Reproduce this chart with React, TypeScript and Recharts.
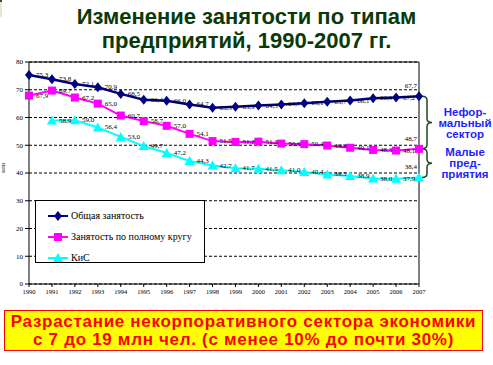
import {
  CartesianGrid,
  LabelList,
  Line,
  LineChart,
  ReferenceArea,
  ReferenceLine,
  XAxis,
  YAxis,
} from 'recharts'

const years = ['1990', '1991', '1992', '1993', '1994', '1995', '1996', '1997', '1998', '1999', '2000', '2001', '2002', '2003', '2004', '2005', '2006', '2007']
const totalEmp = [75.3, 73.8, 72.1, 70.9, 68.5, 66.4, 66.0, 64.7, 63.5, 63.9, 64.3, 64.7, 65.1, 65.7, 66.1, 66.9, 67.2, 67.7]
const fullEmp = [67.9, 69.7, 67.2, 65.0, 60.7, 58.7, 57.0, 54.1, 51.5, 51.2, 51.3, 50.6, 50.4, 49.9, 49.1, 48.3, 48.1, 48.7]
const smallEnt = [null, 58.9, 59.0, 56.4, 53.0, 49.7, 47.2, 44.3, 42.7, 41.7, 41.5, 41.0, 40.4, 39.5, 38.9, 38.0, 37.9, 38.4]
const yTicks = [0, 10, 20, 30, 40, 50, 60, 70, 80]

const data = years.map((year, i) => ({
  year,
  total: totalEmp[i],
  full: fullEmp[i],
  kis: smallEnt[i],
}))

const last = years.length - 1
const serif = '"Liberation Serif", "Times New Roman", serif'
const arial = '"Liberation Sans", Arial, sans-serif'

const series = [
  { key: 'total', name: 'Общая занятость', color: '#000080', width: 2.5, marker: 'diamond' },
  { key: 'full', name: 'Занятость по полному кругу', color: '#ff00ff', width: 2, marker: 'square' },
  { key: 'kis', name: 'КиС', color: '#00ffff', width: 2, marker: 'triangle' },
]

function Marker({ type, cx, cy, color }: { type: string; cx: number; cy: number; color: string }) {
  if (type === 'diamond')
    return <polygon points={`${cx},${cy - 5} ${cx + 4},${cy} ${cx},${cy + 5} ${cx - 4},${cy}`} fill={color} />
  if (type === 'square') return <rect x={cx - 4} y={cy - 4} width={8} height={8} fill={color} />
  return <polygon points={`${cx},${cy - 5} ${cx + 5},${cy + 4} ${cx - 5},${cy + 4}`} fill={color} />
}

const makeDot = (type: string, color: string) => (props: any) => {
  const { cx, cy, index, value } = props
  if (cx == null || cy == null || value == null) return <g key={`n-${type}-${index}`} />
  return (
    <g key={`${type}-${index}`}>
      <Marker type={type} cx={cx} cy={cy} color={color} />
    </g>
  )
}

const pointLabel = (props: any) => {
  const { x, y, value, index } = props
  if (value == null) return null
  const txt = Number(value).toFixed(1).replace('.', ',')
  if (index === last)
    return (
      <text x={x - 2} y={y - 8} textAnchor="end" fontSize={7} fontFamily={serif} fill="#000">
        {txt}
      </text>
    )
  return (
    <text x={x + 7} y={y + 2} fontSize={7} fontFamily={serif} fill="#000">
      {txt}
    </text>
  )
}

// фигурная скобка справа от графика
const brace = (props: any) => {
  const { x, y, width, height } = props
  const x0 = x + width + 3
  const mid = y + height / 2
  const d = `M${x0},${y} Q${x0 + 5},${y} ${x0 + 5},${y + 4} L${x0 + 5},${mid - 4} Q${x0 + 5},${mid} ${x0 + 10},${mid} Q${x0 + 5},${mid} ${x0 + 5},${mid + 4} L${x0 + 5},${y + height - 4} Q${x0 + 5},${y + height} ${x0},${y + height}`
  return <path d={d} fill="none" stroke="#1a4a1a" strokeWidth={1.5} />
}

function LegendBox() {
  return (
    <div
      style={{
        position: 'absolute',
        left: 35,
        top: 200,
        width: 170,
        height: 63,
        border: '1px solid #000',
        background: '#fff',
        boxSizing: 'border-box',
        padding: '4px 0 0 10px',
      }}
    >
      {series.map((s) => (
        <div key={s.key} style={{ display: 'flex', alignItems: 'center', height: 21 }}>
          <svg width={24} height={12}>
            <line x1={2} y1={6} x2={22} y2={6} stroke={s.color} strokeWidth={2} />
            <Marker type={s.marker} cx={12} cy={6} color={s.color} />
          </svg>
          <span style={{ fontFamily: serif, fontSize: 10, color: '#000', marginLeft: 1 }}>{s.name}</span>
        </div>
      ))}
    </div>
  )
}

const blueText = {
  position: 'absolute' as const,
  left: 425,
  width: 80,
  textAlign: 'center' as const,
  fontFamily: arial,
  fontWeight: 'bold' as const,
  fontSize: 11.5,
  lineHeight: '11px',
  color: '#1f1fff',
}

export default function App() {
  return (
    <div style={{ position: 'absolute', left: 0, top: 0, width: 493, height: 365, background: '#fff', overflow: 'hidden' }}>
      <div style={{ position: 'absolute', left: 0, top: 0, width: 2, height: 17, background: '#e6e6d2' }} />
      <div style={{ position: 'absolute', left: 0, top: 0, width: 2, height: 2, background: '#2f5a10' }} />
      <div
        style={{
          position: 'absolute',
          left: 0,
          top: 5,
          width: 493,
          textAlign: 'center',
          fontFamily: arial,
          fontWeight: 'bold',
          fontSize: 22,
          lineHeight: '24px',
          color: '#0a3a0a',
        }}
      >
        Изменение занятости по типам
        <br />
        предприятий, 1990-2007 гг.
      </div>

      <div style={{ position: 'absolute', left: 0, top: 0 }}>
        <LineChart width={493} height={305} data={data} margin={{ top: 62, right: 74, left: 9, bottom: 0 }}>
          <CartesianGrid vertical={false} stroke="#000" strokeDasharray="3 2" />
          <XAxis
            dataKey="year"
            height={21}
            interval={0}
            tick={{ fontSize: 6.5, fill: '#000', fontFamily: serif }}
            tickSize={3}
            axisLine={{ stroke: '#000' }}
            tickLine={{ stroke: '#000' }}
          />
          <YAxis
            width={20}
            domain={[0, 80]}
            ticks={yTicks}
            interval={0}
            tick={{ fontSize: 7, fill: '#000', fontFamily: serif }}
            tickSize={4}
            axisLine={{ stroke: '#000' }}
            tickLine={{ stroke: '#000' }}
            label={{ value: 'млн', angle: -90, position: 'insideLeft', offset: -6, fontSize: 6, fill: '#000', fontFamily: serif }}
          />
          <ReferenceLine y={80} stroke="#000" strokeWidth={1} />
          <ReferenceLine x={years[last]} stroke="#000" strokeWidth={1} />
          <ReferenceArea y1={fullEmp[last]} y2={totalEmp[last]} ifOverflow="visible" shape={brace} />
          <ReferenceArea y1={smallEnt[last] as number} y2={fullEmp[last]} ifOverflow="visible" shape={brace} />
          {series.map((s) => (
            <Line
              key={s.key}
              type="linear"
              dataKey={s.key}
              name={s.name}
              stroke={s.color}
              strokeWidth={s.width}
              dot={makeDot(s.marker, s.color)}
              connectNulls
              isAnimationActive={false}
            >
              <LabelList dataKey={s.key} content={pointLabel} />
            </Line>
          ))}
        </LineChart>
      </div>

      <LegendBox />

      <div style={{ ...blueText, top: 107 }}>
        Нефор-
        <br />
        мальный
        <br />
        сектор
      </div>
      <div style={{ ...blueText, top: 147 }}>
        Малые
        <br />
        пред-
        <br />
        приятия
      </div>

      <div
        style={{
          position: 'absolute',
          left: 4,
          top: 310,
          width: 479,
          height: 41,
          boxSizing: 'border-box',
          border: '1px solid #ff0000',
          background: '#ffff00',
          textAlign: 'center',
          fontFamily: arial,
          fontWeight: 'bold',
          fontSize: 17,
          letterSpacing: 0.7,
          lineHeight: '18px',
          color: '#ff0000',
          paddingTop: 2,
        }}
      >
        Разрастание некорпоративного сектора экономики
        <br />с 7 до 19 млн чел. (с менее 10% до почти 30%)
      </div>
    </div>
  )
}
